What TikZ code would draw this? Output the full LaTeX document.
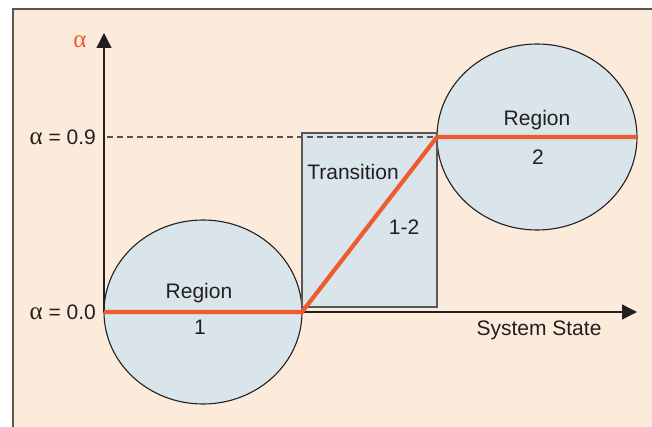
\documentclass[tikz,border=0pt]{standalone}
\usepackage{fontspec}
\setmainfont{Liberation Sans}
\newfontfamily\greekfont{Liberation Serif}
\usetikzlibrary{shapes.geometric,arrows.meta}

\definecolor{panel}{HTML}{FCEBDA}
\definecolor{regionfill}{HTML}{D9E5EA}
\definecolor{curve}{HTML}{EE5B2F}
\definecolor{ink}{HTML}{231F20}
\definecolor{frame}{HTML}{5B5656}
\definecolor{guide}{HTML}{555555}

\newcommand{\alp}{{\greekfont\fontsize{25}{24}\selectfont α}}

\tikzset{
  region/.style={ellipse, draw=ink, fill=regionfill, line width=1.1pt,
    inner sep=0pt, outer sep=0pt},
  transbox/.style={rectangle, draw=frame, fill=regionfill, line width=1.3pt,
    inner sep=0pt, outer sep=0pt},
  label/.style={text=ink, inner sep=0pt, font=\fontsize{21}{24}\selectfont},
  axis/.style={draw=ink, line width=1.3pt,
    -{Triangle[length=15pt,width=15pt]}},
  curveline/.style={draw=curve, line width=4.2pt, line join=miter},
  guideline/.style={draw=guide, line width=1.1pt, dash pattern=on 6pt off 4pt},
}

\begin{document}
\begin{tikzpicture}[x=1pt,y=-1pt]
  \useasboundingbox (0,0) rectangle (652,427);

  % framed panel
  \fill[panel] (13,9) rectangle (652,427);
  \draw[frame, line width=2pt] (13,427) -- (13,9) -- (652,9);

  % regions and transition zone
  \node[region, minimum width=198pt, minimum height=184pt] (r1) at (203,312) {};
  \node[region, minimum width=200pt, minimum height=186pt] (r2) at (537,137) {};
  \node[transbox, minimum width=135pt, minimum height=174pt] (t12) at (369.5,220) {};

  % axes
  \coordinate (o) at (104,312);
  \coordinate (ytip) at (104,33);
  \coordinate (xtip) at (637,312);
  \coordinate (g0) at (107,137);
  \draw[guideline] (g0) -- (r2.west);
  \draw[axis] (o) -- (ytip);
  \draw[axis] (o) -- (xtip);

  % alpha over the system state
  \draw[curveline] (o) -- (r1.east) -- (r2.west) -- (r2.east);

  % labels
  \node[label, text=curve] (alab) at (80,42) {\alp};
  \node[label, anchor=east] (a09) at (96,137) {\alp\ = 0.9};
  \node[label, anchor=east] (a00) at (96,312) {\alp\ = 0.0};
  \node[label] (xlab) at (539,330) {System State};
  \node[label] (r1a) at (199,293.5) {Region};
  \node[label] (r1b) at (200,327) {1};
  \node[label] (r2a) at (537,120) {Region};
  \node[label] (r2b) at (538,157) {2};
  \node[label] (t12a) at (353,172) {Transition};
  \node[label] (t12b) at (404,227) {1-2};
\end{tikzpicture}
\end{document}
